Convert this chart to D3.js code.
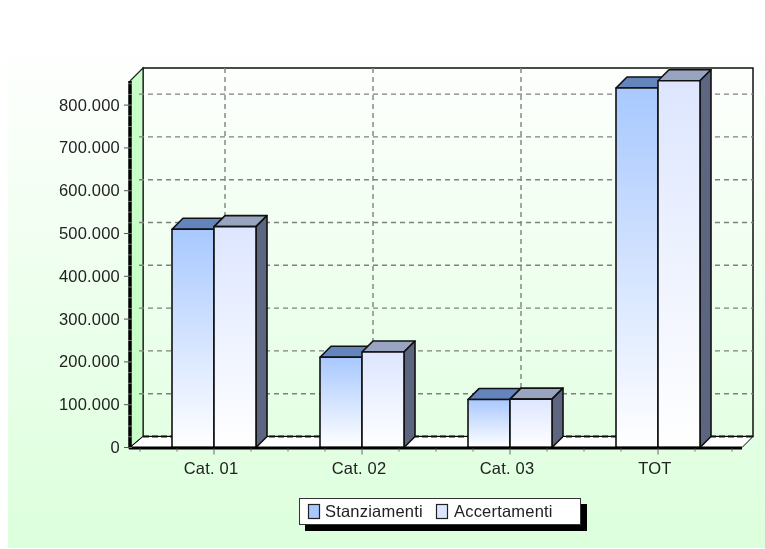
<!DOCTYPE html>
<html>
<head>
<meta charset="utf-8">
<script src="https://cdn.jsdelivr.net/npm/d3@7"></script>
<style>
  html, body { margin: 0; padding: 0; background: #fff; }
  svg { display: block; font-family: "Liberation Sans", Arial, sans-serif; filter: blur(0.5px); }
  text { letter-spacing: 0.2px; }
</style>
</head>
<body>
<div id="chart"></div>
<script>
const categories = ['Cat. 01', 'Cat. 02', 'Cat. 03', 'TOT']
const seriesNames = ['Stanziamenti', 'Accertamenti']
const stanziamenti = [510000, 211000, 112000, 840000]
const accertamenti = [516000, 223000, 113000, 857000]
const yTicks = [0, 100000, 200000, 300000, 400000, 500000, 600000, 700000, 800000]
const yMinorTicks = d3.range(0, 875000, 25000)

const width = 765
const height = 549
const depthX = 13
const depthY = 11
const barDepth = 11
const barWidth = 42
const fontSize = 16.5

const plotLeft = 130
const plotRight = 742
const plotBottom = 447.5
const plotTop = 79

const faces = [
  { top: '#a8c8ff', front: '#ffffff', cap: '#6484bc', side: '#5c6680' },
  { top: '#dde6ff', front: '#ffffff', cap: '#98a4c0', side: '#5c6680' }
]

const y = d3.scaleLinear().domain([0, 861000]).range([plotBottom, plotTop])
const x = d3.scaleBand().domain(categories).range([140, 732])
const xMinor = d3.scaleLinear().domain([0, 16]).range([140, 732])
const fmt = d3.formatLocale({ decimal: ',', thousands: '.', grouping: [3], currency: ['', ''] }).format(',d')

const svg = d3.select('#chart').append('svg')
  .attr('width', width)
  .attr('height', height)

const defs = svg.append('defs')
const grad = (id, c0, c1) => {
  const g = defs.append('linearGradient').attr('id', id)
    .attr('x1', 0).attr('y1', 0).attr('x2', 0).attr('y2', 1)
  g.append('stop').attr('offset', '0%').attr('stop-color', c0)
  g.append('stop').attr('offset', '100%').attr('stop-color', c1)
}
grad('bg', '#ffffff', '#dcffdc')
grad('bar0', faces[0].top, faces[0].front)
grad('bar1', faces[1].top, faces[1].front)

// page background, the back wall just shows through it
svg.append('rect')
  .attr('x', 8).attr('y', 33)
  .attr('width', width - 8).attr('height', height - 33 - 1)
  .attr('fill', 'url(#bg)')

const backL = plotLeft + depthX
const backR = plotRight + depthX - 2
const backT = plotTop - depthY
const backB = plotBottom - depthY

svg.append('rect')
  .attr('x', backL).attr('y', backT)
  .attr('width', backR - backL).attr('height', backB - backT)
  .attr('fill', 'none')
  .attr('stroke', '#000').attr('stroke-width', 1.4)

// left wall
svg.append('path')
  .attr('d', d3.line()([[plotLeft, plotTop + 2], [backL, backT], [backL, backB], [plotLeft, plotBottom]]))
  .attr('fill', '#c8ffc8')
  .attr('stroke', '#222').attr('stroke-width', 1.2)

// floor
svg.append('path')
  .attr('d', d3.line()([[plotLeft, plotBottom], [backL, backB], [backR, backB], [plotRight, plotBottom]]) + 'Z')
  .attr('fill', '#fff')
  .attr('stroke', '#000').attr('stroke-width', 1)

// grid
svg.append('g').selectAll('line')
  .data(yTicks.slice(1))
  .join('line')
  .attr('x1', backL - 4).attr('x2', backR)
  .attr('y1', d => y(d) - depthY).attr('y2', d => y(d) - depthY)
  .attr('stroke', '#808080').attr('stroke-width', 1.4).attr('stroke-dasharray', '5,4')

svg.append('g').selectAll('line')
  .data(categories)
  .join('line')
  .attr('x1', d => x(d) + x.bandwidth() / 2 + 11)
  .attr('x2', d => x(d) + x.bandwidth() / 2 + 11)
  .attr('y1', backT).attr('y2', backB)
  .attr('stroke', '#808080').attr('stroke-width', 1.4).attr('stroke-dasharray', '5,4')

svg.append('line')
  .attr('x1', backL).attr('x2', backR).attr('y1', backB).attr('y2', backB)
  .attr('stroke', '#111').attr('stroke-width', 2).attr('stroke-dasharray', '6,3')

// bars
const bars = svg.append('g')
const drawBar = (cat, value, s) => {
  const x0 = x(cat) + x.bandwidth() / 2 - barWidth + s * barWidth
  const x1 = x0 + barWidth
  const y0 = y(value)
  const g = bars.append('g')
    .attr('stroke', '#111').attr('stroke-width', 1.6).attr('stroke-linejoin', 'round')
  g.append('path')
    .attr('d', d3.line()([[x0, y0], [x0 + barDepth, y0 - barDepth], [x1 + barDepth, y0 - barDepth], [x1, y0]]) + 'Z')
    .attr('fill', faces[s].cap)
  g.append('path')
    .attr('d', d3.line()([[x1, y0], [x1 + barDepth, y0 - barDepth], [x1 + barDepth, plotBottom - barDepth], [x1, plotBottom]]) + 'Z')
    .attr('fill', faces[s].side)
  g.append('rect')
    .attr('x', x0).attr('y', y0)
    .attr('width', barWidth).attr('height', plotBottom - y0)
    .attr('fill', `url(#bar${s})`)
}
categories.forEach((c, i) => {
  drawBar(c, stanziamenti[i], 0)
  drawBar(c, accertamenti[i], 1)
})

// axes
svg.append('line')
  .attr('x1', plotLeft).attr('x2', plotLeft).attr('y1', plotTop + 2).attr('y2', plotBottom + 1)
  .attr('stroke', '#000').attr('stroke-width', 3.5)
svg.append('line')
  .attr('x1', plotLeft - 1).attr('x2', plotRight).attr('y1', plotBottom + 0.5).attr('y2', plotBottom + 0.5)
  .attr('stroke', '#000').attr('stroke-width', 3)

const yAxis = svg.append('g')
yAxis.selectAll('line.minor')
  .data(yMinorTicks)
  .join('line')
  .attr('class', 'minor')
  .attr('x1', plotLeft - 2).attr('x2', plotLeft + 2)
  .attr('y1', d => y(d)).attr('y2', d => y(d))
  .attr('stroke', '#777')
yAxis.selectAll('line.major')
  .data(yTicks)
  .join('line')
  .attr('class', 'major')
  .attr('x1', plotLeft - 6).attr('x2', plotLeft)
  .attr('y1', d => y(d)).attr('y2', d => y(d))
  .attr('stroke', '#555')
yAxis.selectAll('text')
  .data(yTicks)
  .join('text')
  .attr('x', 120)
  .attr('y', d => y(d) + 5.5)
  .attr('text-anchor', 'end')
  .attr('font-size', fontSize)
  .attr('fill', '#222')
  .text(d => fmt(d))

svg.append('g').selectAll('line')
  .data(d3.range(0, 17))
  .join('line')
  .attr('x1', d => xMinor(d)).attr('x2', d => xMinor(d))
  .attr('y1', plotBottom + 1).attr('y2', d => plotBottom + (d % 4 === 2 ? 7 : 4))
  .attr('stroke', '#666')

svg.append('g').selectAll('text')
  .data(categories)
  .join('text')
  .attr('x', d => x(d) + x.bandwidth() / 2 - 3)
  .attr('y', 474)
  .attr('text-anchor', 'middle')
  .attr('font-size', fontSize)
  .attr('fill', '#222')
  .text(d => d)

// legend
const legend = svg.append('g')
legend.append('rect')
  .attr('x', 305).attr('y', 504).attr('width', 282).attr('height', 27)
  .attr('fill', '#000')
legend.append('rect')
  .attr('x', 299.5).attr('y', 498.5).attr('width', 281).attr('height', 26)
  .attr('fill', '#fff').attr('stroke', '#333')
const legendSwatchX = [308, 436]
const legendTextX = [325, 454]
seriesNames.forEach((name, i) => {
  legend.append('rect')
    .attr('x', legendSwatchX[i] + 0.5).attr('y', 504.5)
    .attr('width', 11).attr('height', 14)
    .attr('fill', faces[i].top).attr('stroke', '#222').attr('stroke-width', 1.2)
  legend.append('text')
    .attr('x', legendTextX[i]).attr('y', 517)
    .attr('font-size', fontSize)
    .attr('fill', '#222')
    .text(name)
})
</script>
</body>
</html>
